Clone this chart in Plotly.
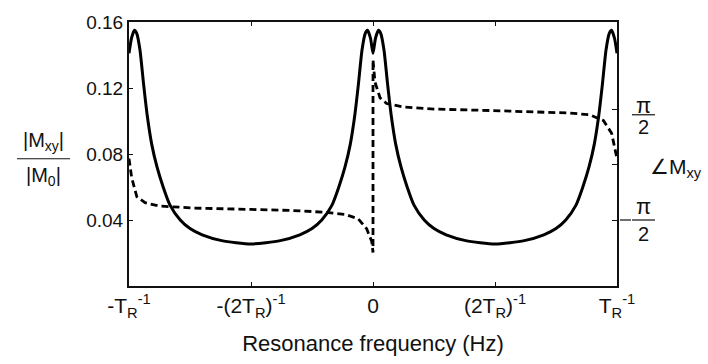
import math
import plotly.graph_objects as go

# ---- data ----
freq_mag = [-1.000, -0.990, -0.978, -0.968, -0.955, -0.940, -0.925, -0.907, -0.885, -0.860,
            -0.832, -0.790, -0.750, -0.700, -0.620, -0.500, -0.380, -0.300, -0.250, -0.210,
            -0.168, -0.140, -0.115, -0.093, -0.075, -0.060, -0.045, -0.032, -0.022, -0.010,
            0.000, 0.010, 0.022, 0.032, 0.045, 0.060, 0.075, 0.093, 0.115, 0.140,
            0.168, 0.210, 0.250, 0.300, 0.380, 0.500, 0.620, 0.700, 0.750, 0.790,
            0.832, 0.860, 0.885, 0.907, 0.925, 0.940, 0.955, 0.968, 0.978, 0.990, 1.000]
mag = [0.141, 0.150, 0.155, 0.153, 0.143, 0.122, 0.103, 0.086, 0.072, 0.060,
       0.049, 0.040, 0.0348, 0.031, 0.0275, 0.0255, 0.0275, 0.031, 0.0348, 0.040,
       0.049, 0.060, 0.072, 0.086, 0.103, 0.122, 0.143, 0.153, 0.155, 0.150,
       0.141, 0.150, 0.155, 0.153, 0.143, 0.122, 0.103, 0.086, 0.072, 0.060,
       0.049, 0.040, 0.0348, 0.031, 0.0275, 0.0255, 0.0275, 0.031, 0.0348, 0.040,
       0.049, 0.060, 0.072, 0.086, 0.103, 0.122, 0.143, 0.153, 0.155, 0.150, 0.141]

freq_phase = [-1.000, -0.989, -0.968, -0.934, -0.880, -0.743, -0.500, -0.333, -0.197, -0.115,
              -0.060, -0.026, -0.005, 0.000, 0.000, 0.008, 0.029, 0.056, 0.124, 0.261,
              0.493, 0.671, 0.807, 0.889, 0.944, 0.978, 1.000]
phase = [0.17, -0.37, -0.91, -1.08, -1.17, -1.23, -1.27, -1.30, -1.35, -1.41,
         -1.54, -1.82, -2.18, -2.49, 2.97, 2.34, 1.89, 1.73, 1.63, 1.57,
         1.53, 1.50, 1.46, 1.41, 1.25, 0.89, 0.17]

x_tickvals = [-1, -0.5, 0, 0.5, 1]
x_ticktext = ["-T<sub>R</sub><sup>-1</sup>", "-(2T<sub>R</sub>)<sup>-1</sup>", "0",
              "(2T<sub>R</sub>)<sup>-1</sup>", "T<sub>R</sub><sup>-1</sup>"]
y_tickvals = [0.04, 0.08, 0.12, 0.16]
y_ticktext = ["0.04", "0.08", "0.12", "0.16"]
y2_tickvals = [-math.pi / 2, 0, math.pi / 2]

FONT = "Liberation Sans, Arial, Helvetica, sans-serif"
INK = "#111111"

fig = go.Figure()
fig.add_trace(go.Scatter(x=freq_mag, y=mag, mode="lines",
                         line=dict(color="black", width=3, shape="spline", smoothing=0.6),
                         showlegend=False, hoverinfo="skip"))
fig.add_trace(go.Scatter(x=freq_phase, y=phase, mode="lines", yaxis="y2",
                         line=dict(color="black", width=2.8, dash="7px,4px"),
                         showlegend=False, hoverinfo="skip"))

fig.update_layout(
    width=708, height=364,
    margin=dict(l=129, r=91, t=14, b=74),
    paper_bgcolor="white", plot_bgcolor="white",
    font=dict(family=FONT, color=INK),
    xaxis=dict(range=[-1, 1], tickvals=x_tickvals, ticktext=x_ticktext,
               ticks="inside", ticklen=4, tickwidth=1, tickcolor=INK,
               showline=True, linewidth=2, linecolor=INK, mirror="ticks",
               showgrid=False, zeroline=False, tickfont=dict(size=21),
               title=dict(text="Resonance frequency (Hz)", font=dict(size=22), standoff=16)),
    yaxis=dict(range=[0, 0.16], tickvals=y_tickvals, ticktext=y_ticktext,
               ticks="inside", ticklen=4, tickwidth=1, tickcolor=INK,
               showline=True, linewidth=2, linecolor=INK,
               showgrid=False, zeroline=False, tickfont=dict(size=19)),
    yaxis2=dict(range=[-3.44, 4.04], overlaying="y", side="right",
                tickvals=y2_tickvals, ticktext=["", "", ""],
                ticks="inside", ticklen=5, tickwidth=1, tickcolor=INK,
                showline=True, linewidth=2, linecolor=INK,
                showgrid=False, zeroline=False),
)

ann = []
# left axis label as fraction
ann.append(dict(text="|M<sub>xy</sub>|", x=-0.176, y=0.493, xref="paper", yref="paper",
                xanchor="center", yanchor="bottom", showarrow=False, font=dict(size=20)))
ann.append(dict(text="|M<sub>0</sub>|", x=-0.176, y=0.470, xref="paper", yref="paper",
                xanchor="center", yanchor="top", showarrow=False, font=dict(size=20)))
# right axis label
ann.append(dict(text="∠M<sub>xy</sub>", x=1.064, y=0.446, xref="paper", yref="paper",
                xanchor="left", yanchor="middle", showarrow=False, font=dict(size=21)))
# right tick labels (fractions)
ann.append(dict(text="π", x=1.0533, y=0.683, xref="paper", yref="paper",
                xanchor="center", yanchor="middle", showarrow=False, font=dict(size=22)))
ann.append(dict(text="2", x=1.0533, y=0.601, xref="paper", yref="paper",
                xanchor="center", yanchor="middle", showarrow=False, font=dict(size=20)))
ann.append(dict(text="π", x=1.0533, y=0.3007, xref="paper", yref="paper",
                xanchor="center", yanchor="middle", showarrow=False, font=dict(size=22)))
ann.append(dict(text="2", x=1.0533, y=0.1957, xref="paper", yref="paper",
                xanchor="center", yanchor="middle", showarrow=False, font=dict(size=20)))
fig.update_layout(annotations=ann)

shapes = [
    dict(type="line", xref="paper", yref="paper", x0=-0.2295, x1=-0.121, y0=0.482, y1=0.482,
         line=dict(color=INK, width=1.2)),
    dict(type="line", xref="paper", yref="paper", x0=1.0307, x1=1.0779, y0=0.6486, y1=0.6486,
         line=dict(color=INK, width=1.2)),
    dict(type="line", xref="paper", yref="paper", x0=1.0307, x1=1.0779, y0=0.25, y1=0.25,
         line=dict(color=INK, width=1.2)),
    # minus sign in front of the -pi/2 label
    dict(type="line", xref="paper", yref="paper", x0=1.0061, x1=1.0287, y0=0.25, y1=0.25,
         line=dict(color=INK, width=1.2)),
]
fig.update_layout(shapes=shapes)

fig.write_html("out.html")
